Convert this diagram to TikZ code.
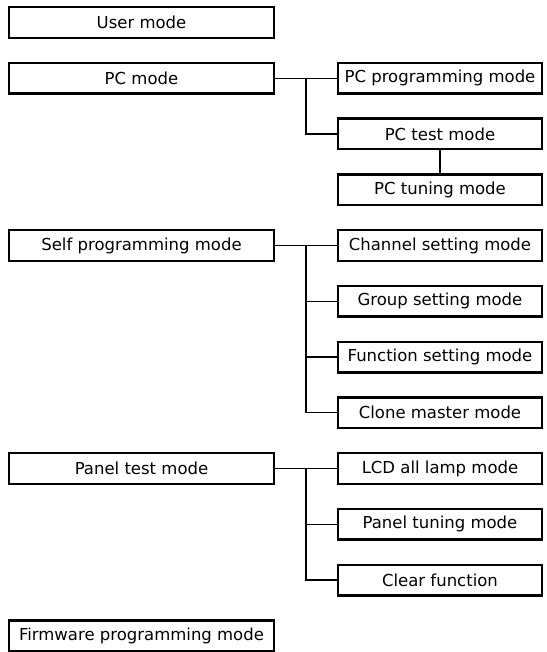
\documentclass[tikz,border=0pt]{standalone}
\usepackage{fontspec}
\setmainfont{DejaVu Sans}
\usepackage{tikz}
\usetikzlibrary{calc,positioning}

\tikzset{
  modebox/.style={draw,line width=2.4pt,minimum height=30.6pt,inner sep=0pt,
    font=\fontsize{16.5}{20}\selectfont},
  mainbox/.style={modebox,minimum width=264.6pt},
  subbox/.style={modebox,minimum width=203.6pt},
  link/.style={line width=1.2pt}
}

\begin{document}
\begin{tikzpicture}[x=1pt,y=-1pt]
  \useasboundingbox (0,0) rectangle (546,652);
  % left column
  \node[mainbox] (user)  at (141.5,22.5)  {User mode};
  \node[mainbox] (pc)    at (141.5,78.25) {PC mode};
  \node[mainbox] (self)  at (141.5,245.5) {Self programming mode};
  \node[mainbox] (panel) at (141.5,468.5) {Panel test mode};
  \node[mainbox] (firm)  at (141.5,635.75) {Firmware programming mode};
  % right column
  \node[subbox] (pcprog) at (440,78.25)  {PC programming mode};
  \node[subbox] (pctest) at (440,134)    {PC test mode};
  \node[subbox] (pctune) at (440,189.75) {PC tuning mode};
  \node[subbox] (chan)   at (440,245.5)  {Channel setting mode};
  \node[subbox] (group)  at (440,301.25) {Group setting mode};
  \node[subbox] (func)   at (440,357)    {Function setting mode};
  \node[subbox] (clone)  at (440,412.75) {Clone master mode};
  \node[subbox] (lcd)    at (440,468.5)  {LCD all lamp mode};
  \node[subbox] (ptune)  at (440,524.25) {Panel tuning mode};
  \node[subbox] (clear)  at (440,580)    {Clear function};
  % branch points
  \coordinate (pcfork)    at ($(pc.east)!.5!(pcprog.west)$);
  \coordinate (selffork)  at ($(self.east)!.5!(chan.west)$);
  \coordinate (panelfork) at ($(panel.east)!.5!(lcd.west)$);
  % connectors
  \draw[link] (pc.east) -- (pcprog.west);
  \draw[link] (pcfork) |- (pctest.west);
  \draw[link] (pctest) -- (pctune);
  \draw[link] (self.east) -- (chan.west);
  \foreach \n in {group,func,clone}
    \draw[link] (selffork) |- (\n.west);
  \draw[link] (panel.east) -- (lcd.west);
  \foreach \n in {ptune,clear}
    \draw[link] (panelfork) |- (\n.west);
\end{tikzpicture}
\end{document}
